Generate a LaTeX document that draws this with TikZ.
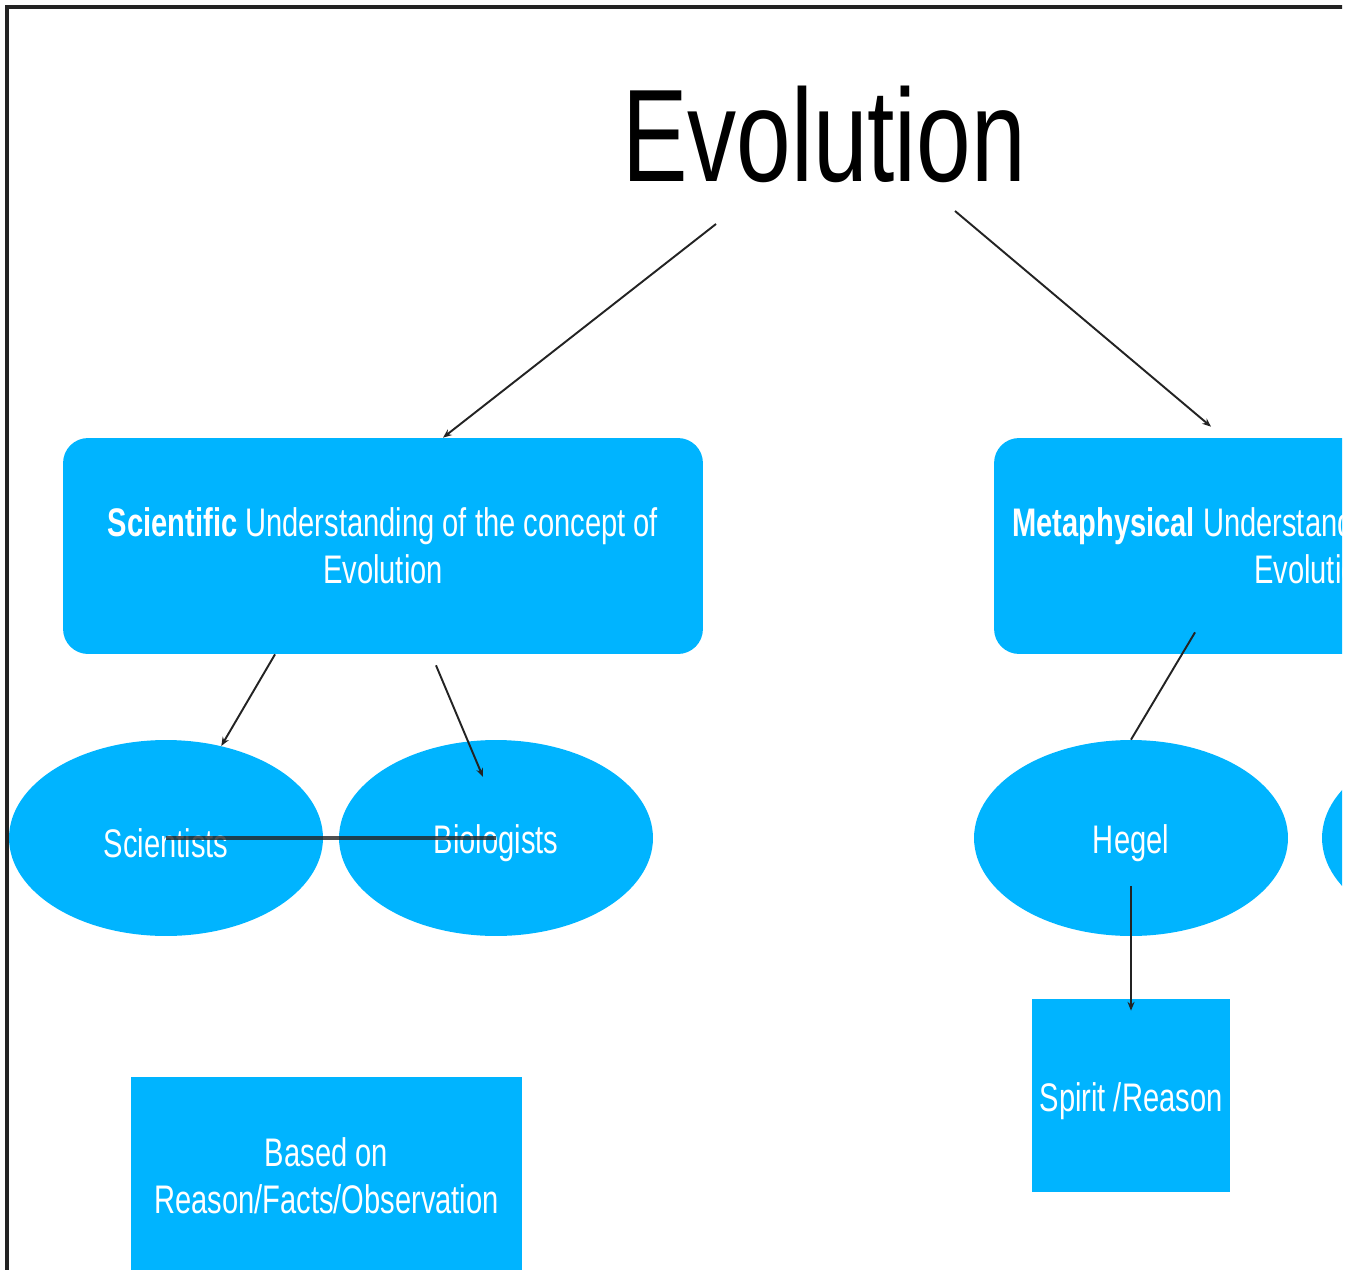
\documentclass[tikz,border=0pt]{standalone}
\usepackage{fontspec}
\setmainfont{Liberation Sans}[FakeStretch=0.73]
\newfontfamily\titlefont{Liberation Sans}[FakeStretch=0.745]
\usetikzlibrary{shapes.geometric,arrows.meta}

\definecolor{boxblue}{RGB}{0,180,255}
\definecolor{linegray}{RGB}{35,35,35}

\newcommand{\lowtext}[1]{\raisebox{-3pt}[\height][\depth]{#1}}

\begin{document}
\begin{tikzpicture}[%
  x=0.02cm, y=-0.02cm, % one unit = one pixel of the page
  every node/.style={text=white, align=center, font=\fontsize{22.7}{26.6}\selectfont},
  bigbox/.style={rectangle, rounded corners=0.5cm, fill=boxblue, minimum width=12.8cm, minimum height=4.32cm}, % Top level boxes
  oval/.style={ellipse, fill=boxblue, minimum width=6.28cm, minimum height=3.92cm}, % People
  sqbox/.style={rectangle, fill=boxblue}, % Bottom boxes
  link/.style={draw=linegray, line width=1.1pt, -{Stealth[length=5pt,width=4pt]}}, % Arrows
  plain/.style={draw=linegray, line width=1.1pt}
]
\useasboundingbox (0,0) rectangle (1348,1270);
\clip (0,0) rectangle (1342,1270);

% Frame
\draw[linegray, line width=2.2pt] (7,1280) -- (7,7) -- (1350,7);

% Title
\node[text=black, font=\titlefont\fontsize{75}{80}\selectfont, inner sep=0pt] (evo) at (824,134) {Evolution};

% Level 1
\node[bigbox] (sci) at (383,546) {\textbf{Scientific} Understanding of the concept of\\ Evolution};
\node[bigbox] (meta) at (1314,546) {\textbf{Metaphysical} Understanding of the concept of\\ Evolution};

% Level 2
\node[oval] (scientists) at (166,838) {\lowtext{Scientists}};
\node[oval] (biologists) at (496,838) {\lowtext{Biologists}};
\node[oval] (hegel) at (1131,838) {\lowtext{Hegel}};
\node[oval] (other) at (1479,838) {};

% Level 3
\node[sqbox, minimum width=7.82cm, minimum height=3.96cm] (based) at (326.5,1176) {Based on\\ Reason/Facts/Observation};
\node[sqbox, minimum width=3.96cm, minimum height=3.86cm] (spirit) at (1131,1095.5) {\lowtext{Spirit /Reason}};

% Edges
\coordinate (evoL) at (716,224);
\coordinate (evoR) at (955,211);
\draw[link] (evoL) -- ([xshift=1.2cm]sci.north);
\draw[link] (evoR) -- ([xshift=-2.06cm,yshift=0.22cm]meta.north);
\draw[link] ([xshift=-2.16cm]sci.south) -- (scientists.59);
\draw[link] ([xshift=1.06cm,yshift=-0.22cm]sci.south) -- ([xshift=-0.26cm,yshift=1.22cm]biologists.center);
\draw[plain] ([xshift=-2.38cm,yshift=0.44cm]meta.south) -- (hegel.north);
\draw[link] ([yshift=-0.96cm]hegel.center) -- ([yshift=-0.24cm]spirit.north);
\draw[linegray, line width=1.8pt, opacity=0.8] (scientists.center) -- (biologists.center);

\end{tikzpicture}
\end{document}
